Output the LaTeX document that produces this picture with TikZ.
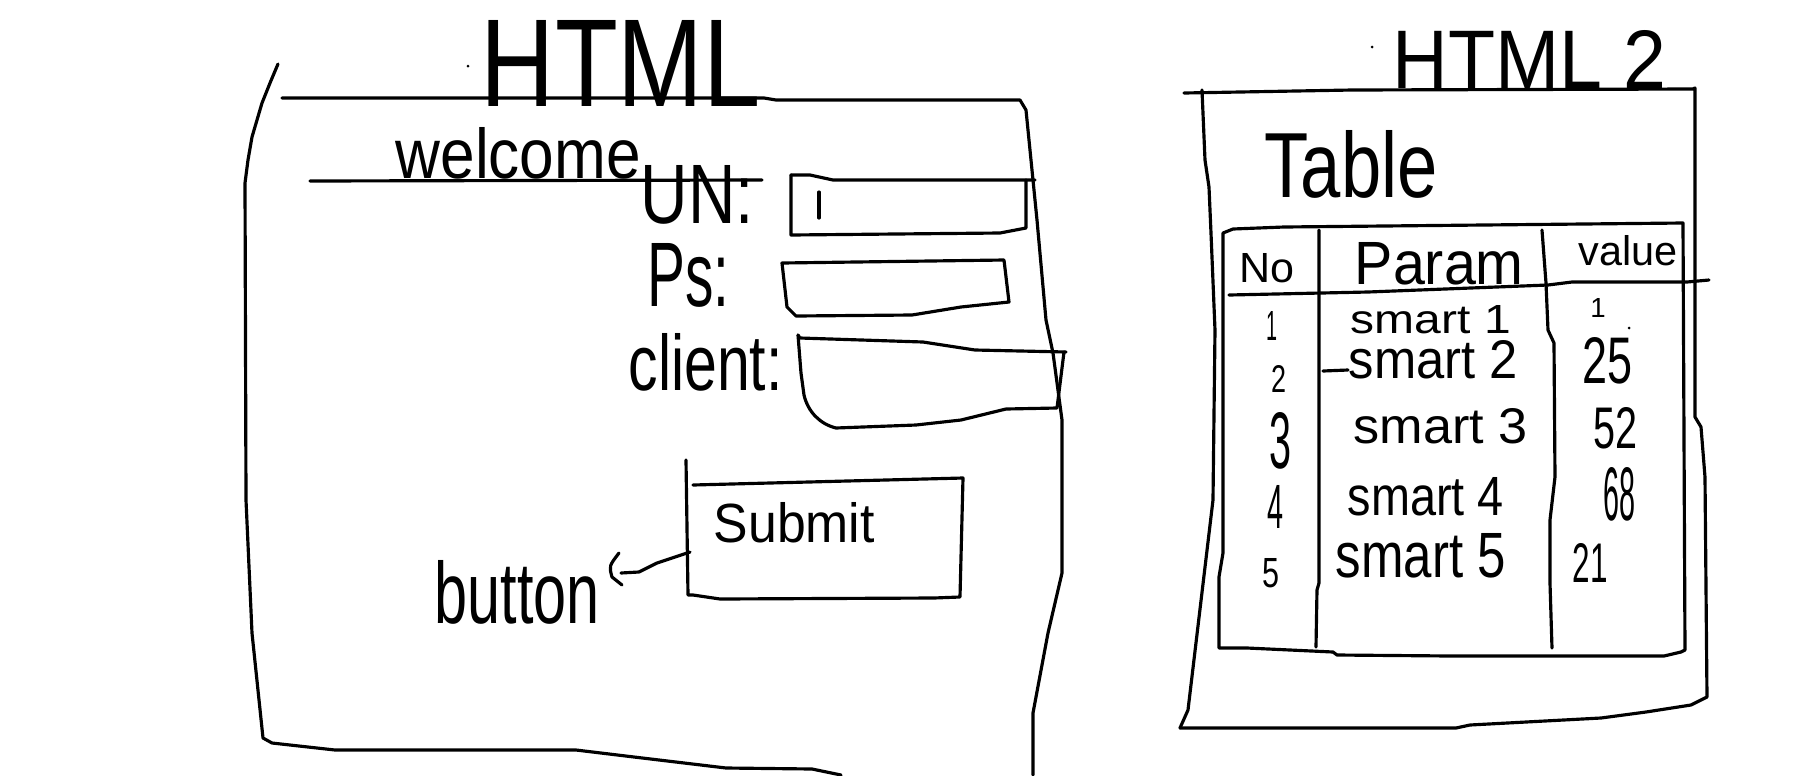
\documentclass[tikz,border=0pt]{standalone}
\usepackage{graphicx}
\usepackage{fontspec}
\setmainfont{Liberation Sans}
\newcommand\hsz[1]{\fontsize{#1}{#1}\selectfont}
% word set to a given width and height (in cm)
\newcommand\hw[3]{\resizebox{#1cm}{#2cm}{\hsz{20pt}#3}}
% glyphs set to a given height (in cm)
\newcommand\hh[2]{\resizebox{!}{#1cm}{\hsz{20pt}#2}}
\begin{document}
\begin{tikzpicture}[x=0.01cm,y=-0.01cm,
  pen/.style={line width=0.9pt,line join=round,line cap=round},
  txt/.style={inner sep=0pt,anchor=base west},
  num/.style={inner sep=0pt,anchor=base},
  dot/.style={fill=black,draw=none}]
\useasboundingbox (0,0) rectangle (1820,775);

% ---------- login page (HTML) ----------
\node[txt] (titleL) at (480,106) {\hw{2.80}{0.86}{HTML}};
\fill[dot] (468,66) circle (1.5);
% page frame
\draw[pen] (278,64) -- (270,83) -- (262,103) -- (252,137) -- (248,160) -- (245,183)
  -- (246,500) -- (252,633) -- (263,738) -- (272,743) -- (335,750) -- (576,750)
  -- (634,757) -- (726,768) -- (812,769) -- (841,775);
\draw[pen] (282,98) -- (764,98) -- (776,100) -- (1020,100) -- (1026,110) -- (1037,220)
  -- (1046,320) -- (1053,353) -- (1062,420) -- (1062,573) -- (1048,633) -- (1033,713) -- (1033,775);
% heading
\node[txt] (welcome) at (395,178) {\hw{2.45}{0.51}{welcome}};
\draw[pen] (310,181) -- (762,180);
% user name field
\node[txt] (un) at (640,223) {\hw{1.13}{0.58}{UN:}};
\draw[pen] (791,175) -- (810,175) -- (833,180) -- (1035,180);
\draw[pen] (1026,180) -- (1026,228) -- (1000,233) -- (791,235) -- (791,175);
\draw[pen] (819,192) -- (819,218);
% password field
\node[txt] (ps) at (647,306) {\hw{0.82}{0.63}{Ps:}};
\draw[pen] (782,263) -- (1004,260) -- (1009,302) -- (961,307) -- (912,315) -- (796,316)
  -- (787,307) -- cycle;
% client field
\node[txt] (client) at (628,390) {\hw{1.54}{0.57}{client:}};
\draw[pen] (798,335) -- (800,338) -- (923,342) -- (975,350) -- (1066,352);
\draw[pen] (1064,352) -- (1057,408) -- (1006,409) -- (961,420) -- (916,425) -- (836,428)
  .. controls (820,424) and (808,412) .. (804,395) -- (801,373) -- (798,335);
% submit button
\draw[pen] (686,460) -- (688,595) -- (693,595) -- (720,599) -- (934,598) -- (960,597)
  -- (963,478) -- (693,485);
\node[txt] (submit) at (713,542) {\hw{1.61}{0.40}{Submit}};
\coordinate (submitL) at (690,552);
% button label and pointer
\node[txt] (button) at (434,623) {\hw{1.65}{0.63}{button}};
\coordinate (hook) at (621,573);
\draw[pen] (submitL) -- (657,563) -- (639,572) -- (hook);
\draw[pen] (619,553) .. controls (609,566) .. (612,577) -- (622,585);

% ---------- table page (HTML 2) ----------
\node[txt] (titleR) at (1392,88) {\hw{2.74}{0.58}{HTML 2}};
\fill[dot] (1372,47) circle (1.5);
\draw[pen] (1184,93) -- (1352,90) -- (1693,89) -- (1695,88) -- (1695,417) -- (1701,427)
  -- (1705,477) -- (1707,697) -- (1691,705) -- (1646,712) -- (1601,718) -- (1470,725)
  -- (1456,728) -- (1180,728);
\draw[pen] (1202,90) -- (1205,160) -- (1209,187) -- (1211,233) -- (1215,330) -- (1213,500)
  -- (1188,710) -- (1180,728);
\node[txt] (tablettl) at (1264,197) {\hw{1.73}{0.67}{Table}};
% table frame
\draw[pen] (1233,229) -- (1284,227) -- (1683,223) -- (1685,650) -- (1681,652) -- (1664,656)
  -- (1450,656) -- (1337,655) -- (1333,652) -- (1247,648) -- (1219,648) -- (1219,577)
  -- (1223,553) -- (1223,233) -- cycle;
% column rules
\draw[pen] (1319,230) -- (1319,583) -- (1317,590) -- (1316,647);
\draw[pen] (1542,230) -- (1546,283) -- (1548,330) -- (1554,343) -- (1555,477) -- (1550,520)
  -- (1550,583) -- (1552,648);
% header rule
\draw[pen] (1229,295) -- (1368,292) -- (1548,285) -- (1572,282) -- (1687,282) -- (1709,280);
% header
\node[txt] (hno) at (1239,282) {\hw{0.55}{0.29}{No}};
\node[txt] (hparam) at (1354,284) {\hw{1.69}{0.42}{Param}};
\node[txt] (hvalue) at (1578,265) {\hw{0.99}{0.30}{value}};
% rows
\node[txt] (n1) at (1266,340) {\hw{0.11}{0.29}{1}};
\node[txt] (n2) at (1271,392) {\hw{0.15}{0.27}{2}};
\node[txt] (n3) at (1269,468) {\hw{0.22}{0.56}{3}};
\node[txt] (n4) at (1267,528) {\hw{0.16}{0.43}{4}};
\node[txt] (n5) at (1262,587) {\hw{0.17}{0.29}{5}};
\node[txt] (s1) at (1350,333) {\hw{1.60}{0.28}{smart 1}};
\node[txt] (s2) at (1348,378) {\hw{1.69}{0.38}{smart 2}};
\draw[pen] (1323,371) -- (1348,370);
\node[txt] (s3) at (1353,443) {\hw{1.74}{0.35}{smart 3}};
\node[txt] (s4) at (1347,515) {\hw{1.56}{0.38}{smart 4}};
\node[txt] (s5) at (1335,577) {\hw{1.70}{0.44}{smart 5}};
\node[num] (v1) at (1598,317) {\hh{0.19}{1}};
\fill[dot] (1629,328) circle (1.5);
\node[txt] (v2) at (1582,383) {\hw{0.50}{0.46}{25}};
\node[txt] (v3) at (1593,448) {\hw{0.44}{0.41}{52}};
\node[txt] (v4) at (1603,520) {\hw{0.32}{0.53}{68}};
\node[txt] (v5) at (1572,582) {\hw{0.35}{0.39}{21}};
\end{tikzpicture}
\end{document}
